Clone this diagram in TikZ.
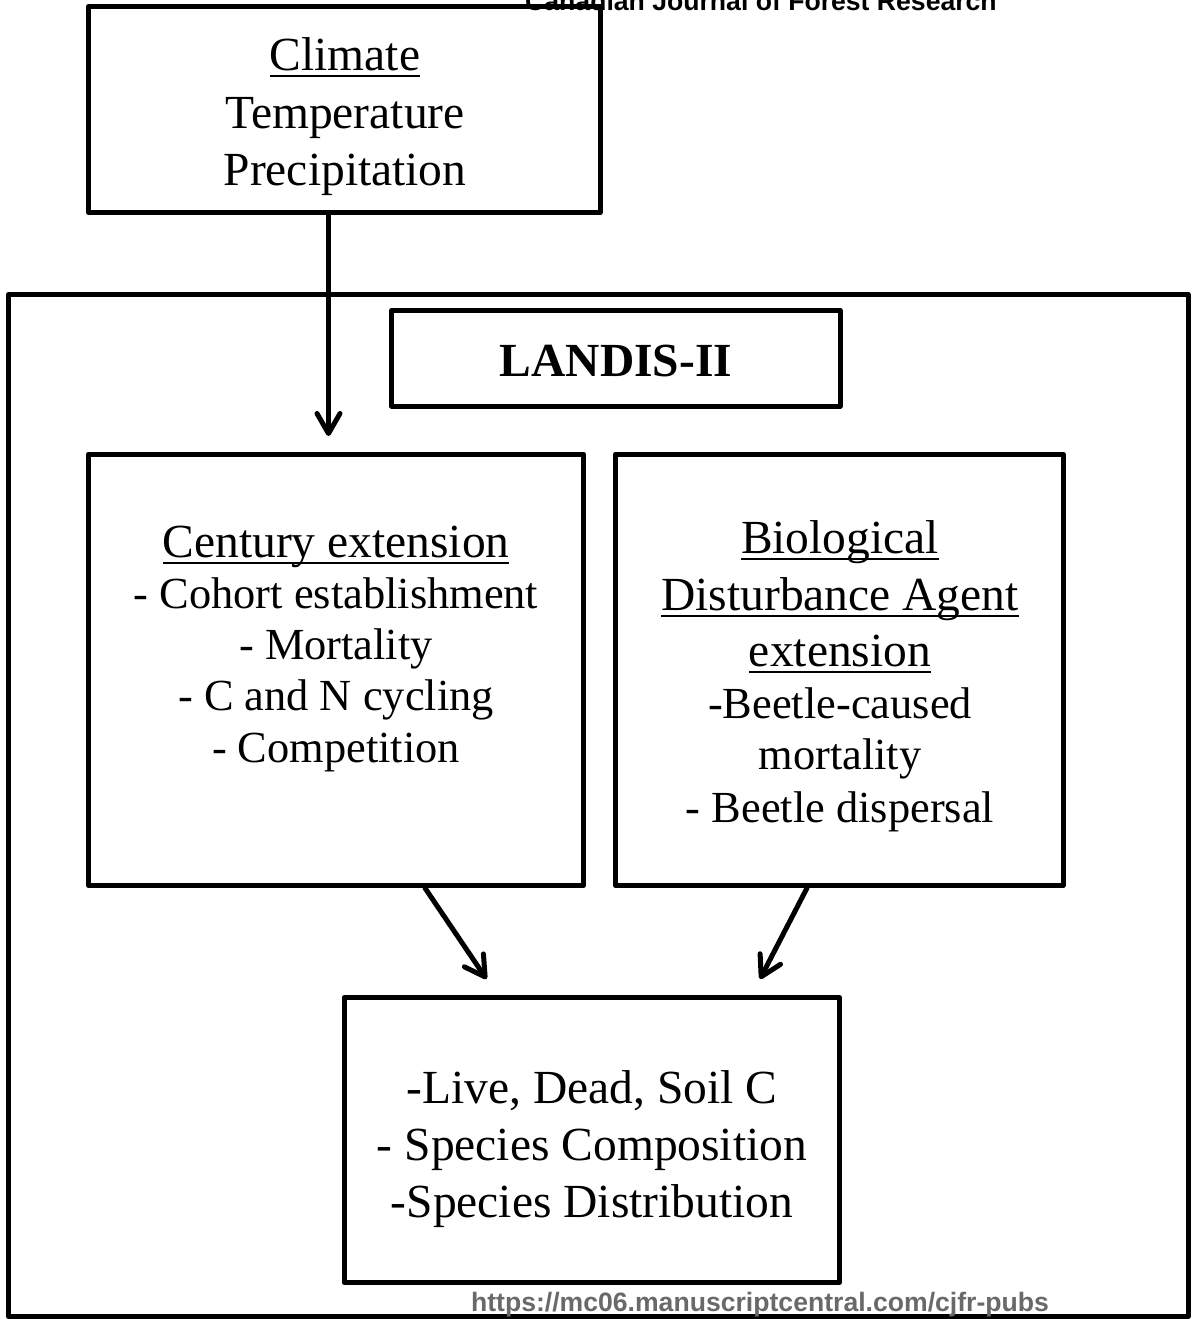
\documentclass[tikz,border=0pt]{standalone}
\usepackage{fontspec}
\setmainfont{Liberation Serif}
\newfontfamily\hdrfont{Liberation Sans}
\usetikzlibrary{arrows.meta,fit}
\definecolor{urlgray}{RGB}{105,105,105}
\newcommand\myul[1]{\setbox0\hbox{#1}\rlap{\rule[-3.6pt]{\wd0}{1.25pt}}\box0}
\tikzset{
  boxline/.style={draw, line width=2.5pt, line join=round, inner sep=0pt},
  big/.style={font=\fontsize{23.75}{28}\selectfont, anchor=base, inner sep=0pt},
  small/.style={font=\fontsize{22.2}{26}\selectfont, anchor=base, inner sep=0pt},
  hdr/.style={font=\hdrfont\bfseries\fontsize{13.3}{15}\selectfont, anchor=base, inner sep=0pt},
  arr/.style={line width=2.5pt, line cap=round, line join=round, -{Straight Barb[length=10pt,width=11.5pt,round]}}
}
\begin{document}
\begin{tikzpicture}[x=0.5pt,y=-0.5pt]
\useasboundingbox (0,0) rectangle (1192,1319);
\clip (0,0) rectangle (1192,1319);
% boxes
\node[boxline, fit={(88.5,6.5) (600,212.5)}] (climate) {};
\node[boxline, fit={(8.5,294.5) (1188,1316.5)}] (outer) {};
\node[boxline, fit={(391.5,310.5) (840,406)}] (landis) {};
\node[boxline, fit={(88.5,454) (583.5,885.5)}] (century) {};
\node[boxline, fit={(615.5,454) (1063,885.5)}] (bda) {};
\node[boxline, fit={(344,997.5) (839.5,1282.5)}] (output) {};
% arrows
\coordinate (t0) at (328.5,436);
\coordinate (t1) at (486.5,979);
\coordinate (t2) at (760,979);
\draw[arr] (t0 |- climate.south) -- (t0);
\draw[arr] (425,0 |- century.south) -- (t1);
\draw[arr] (807,0 |- bda.south) -- (t2);
% climate text
\node[big] (clim1) at (345,70) {\myul{Climate}};
\node[big] (clim2) at (345,128) {Temperature};
\node[big] (clim3) at (345,185) {Precipitation};
% landis
\node[big] (land) at (616,376) {\textbf{LANDIS-II}};
% century
\node[big] (cen0) at (336,557) {\myul{Century extension}};
\node[small] (cen1) at (336,608) {- Cohort establishment};
\node[small] (cen2) at (336,659) {- Mortality};
\node[small] (cen3) at (336,710) {- C and N cycling};
\node[small] (cen4) at (336,762) {- Competition};
% bda
\node[big] (bda0) at (840,553) {\myul{Biological}};
\node[big] (bda1) at (840,610) {\myul{Disturbance Agent}};
\node[big] (bda2) at (840,666) {\myul{extension}};
\node[small] (bda3) at (840,718) {-Beetle-caused};
\node[small] (bda4) at (840,769) {mortality};
\node[small] (bda5) at (840,822) {- Beetle dispersal};
% output
\node[big] (out1) at (592,1103) {-Live, Dead, Soil C};
\node[big] (out2) at (592,1160) {- Species Composition};
\node[big] (out3) at (592,1217) {-Species Distribution};
% header and url
\node[hdr] (journal) at (761,10) {Canadian Journal of Forest Research};
\node[hdr, text=urlgray] (url) at (760,1311) {https://mc06.manuscriptcentral.com/cjfr-pubs};
\end{tikzpicture}
\end{document}
